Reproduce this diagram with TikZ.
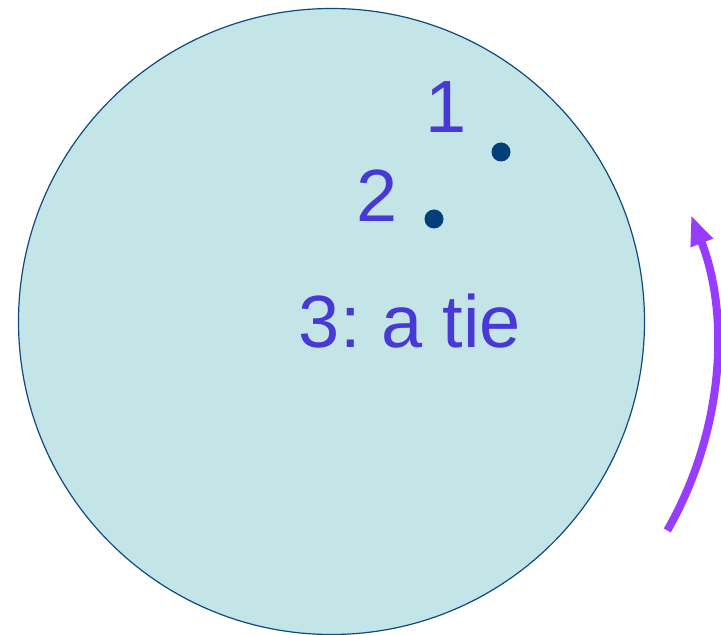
\documentclass[tikz,border=0pt]{standalone}
\usepackage{fontspec}
\setmainfont{Liberation Sans}
\usetikzlibrary{arrows.meta,calc}
\frenchspacing
\definecolor{discfill}{RGB}{196,229,232}
\definecolor{discline}{RGB}{12,74,128}
\definecolor{labelcol}{RGB}{72,56,214}
\definecolor{dotcol}{RGB}{0,63,122}
\definecolor{arrowcol}{RGB}{152,60,255}
\tikzset{
  lbl/.style={text=labelcol, inner sep=0pt, anchor=base, font=\fontsize{74}{80}\selectfont},
  dotmark/.style={circle, fill=dotcol, inner sep=0pt, minimum size=19pt},
  rotarrow/.style={draw=arrowcol, line width=8pt, -{Triangle[length=30pt,width=22pt]}}
}
\begin{document}
\begin{tikzpicture}[x=1pt,y=1pt]
\useasboundingbox (0,0) rectangle (721,635);
\node[circle, fill=discfill, draw=discline, line width=1.2pt, minimum size=626pt, inner sep=0pt] (disc) at (331.5,313.5) {};
\node[lbl] (one) at (446,502) {1};
\node[lbl] (two) at (377,413) {2};
\node[lbl] (tie) at (410,287) {\frenchspacing 3: a tie};
\node[dotmark] (d1) at (501,483) {};
\node[dotmark] (d2) at (434,416) {};
\coordinate (arccentre) at (350,287);
\coordinate (arcstart) at ($(arccentre)+(-29.9:366)$);
\draw[rotarrow] (arcstart) arc[start angle=-29.9, end angle=21.3, radius=366];
\end{tikzpicture}
\end{document}
